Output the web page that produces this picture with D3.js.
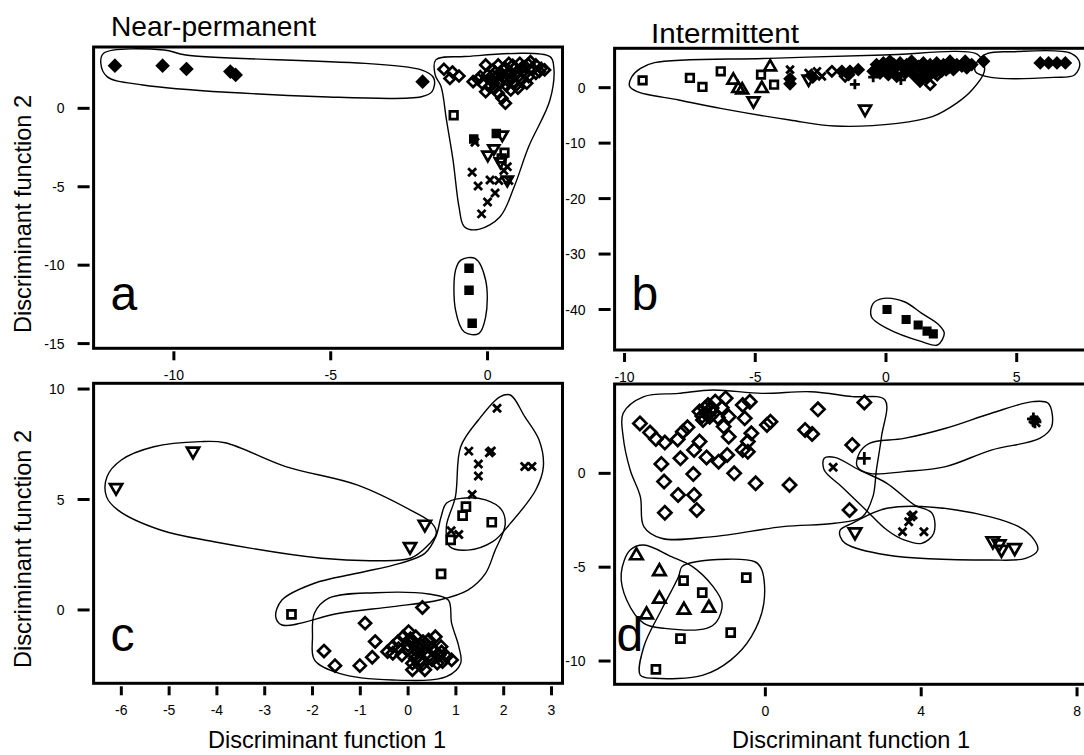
<!DOCTYPE html>
<html>
<head>
<meta charset="utf-8">
<script src="https://cdn.jsdelivr.net/npm/d3@7"></script>
<style>
  body { margin: 0; background: #fff; }
  svg { display: block; font-family: "Liberation Sans", Arial, Helvetica, sans-serif; }
</style>
</head>
<body>
<svg id="chart" width="1084" height="755"></svg>
<script>
// ---- data (discriminant function scores) ----

// a: near-permanent, function 1 vs function 2
const aFilledDiamond = [[-11.88,2.72],[-10.36,2.72],[-9.60,2.51],[-8.20,2.34],[-8.03,2.13],[-2.07,1.70]];
const aOpenDiamond = [[-1.39,2.49],[-1.12,2.32],[-0.91,2.06],[-1.20,1.90],
  [-0.46,1.70],[-0.23,2.02],[-0.06,2.77],[0,2.13],[0.17,2.45],[0.34,2.77],[0.51,2.45],[0.68,2.87],
  [0.85,2.55],[1.03,2.87],[1.20,2.66],[1.37,2.98],[1.54,2.77],[1.71,2.55],[1.82,2.45],[1.54,2.23],
  [1.31,2.02],[1.08,1.81],[0.85,1.60],[0.63,1.81],[0.40,1.60],[0.23,1.28],[0.06,1.38],[0.34,0.96],
  [0.57,0.32],[0.46,0.64],[0.74,1.17],[0.97,1.28],[0.63,2.13],[0.28,2.02],[-0.17,1.60],[0.85,2.13],
  [1.14,2.34],[0.11,1.81],[-0.06,1.06],
  [0.25,2.3],[0.45,2.2],[0.7,2.35],[0.95,2.3],[1.2,2.2],[1.45,2.5],[1.65,2.35],[0.55,2.6],[0.8,2.75],
  [1.1,2.6],[1.3,2.8],[0.2,1.6],[0.5,1.95],[0.75,1.95],[1.0,2.05],[0.15,2.1],[-0.3,1.85],[0.9,1.45],
  [0.6,1.45],[1.25,1.6]];
const aOpenSquare = [[-1.08,-0.44],[0.54,-2.83],[0.45,-3.2]];
const aFilledSquare = [[-0.44,-1.95],[0.28,-1.6],[-0.59,-10.2],[-0.59,-11.6],[-0.49,-13.7]];
const aTriDown = [[0.47,-1.72],[0.01,-3.0],[0.41,-3.43],[0.63,-4.6],[0.2,-2.6]];
const aCross = [[-0.40,-2.17],[-0.49,-4.08],[-0.30,-4.95],[0.08,-4.57],[0.24,-5.40],[0,-5.97],
  [-0.19,-6.73],[0.36,-4.6],[0.68,-4.6],[0.52,-3.96],[0.63,-3.72]];
const aHulls = [
  [[-12.24,3.51],[-10.31,3.72],[-9.62,3.40],[-2.11,2.45],[-1.71,1.91],[-1.77,1.06],[-2.11,0.74],
   [-5.30,0.74],[-10.99,1.49],[-12.13,2.02],[-12.33,2.87]],
  [[-1.65,3.09],[-0.74,3.30],[1.99,3.30],[2.11,2.66],[1.99,0.53],[1.31,-2.45],[0.85,-5.0],[0.40,-6.91],
   [-0.28,-7.72],[-0.74,-7.55],[-0.91,-6.28],[-1.10,-3.30],[-1.31,-0.74],[-1.48,1.38],[-1.67,2.13]],
  [[-0.85,-9.68],[-0.40,-9.57],[-0.06,-10.96],[-0.06,-13.30],[-0.28,-14.36],[-0.74,-14.26],[-1.02,-12.87],[-1.02,-10.32]]
];

// b: intermittent, function 1 vs function 2
const bOpenSquare = [[-9.31,1.32],[-7.50,1.75],[-7.02,0.13],[-6.32,2.95],[-4.78,2.35],[-4.28,0.54]];
const bTriUp = [[-5.84,1.45],[-5.65,-0.05],[-5.5,-0.3],[-4.43,3.85],[-4.75,-0.05]];
const bTriDown = [[-5.07,-2.48],[-2.96,1.45],[-0.80,-3.98]];
const bCross = [[-3.67,3.25],[-2.96,2.66],[-2.64,2.95],[-2.45,2.04]];
const bOpenDiamond = [[-2.07,2.95],[-1.56,2.04],[1.69,0.54],[1.96,2.29]];
const bFilledDiamond = [[-3.67,1.6],[-3.67,0.7],[-2.8,1.9],[-1.69,2.95],[-1.43,2.35],[-1.38,2.95],
  [-1.06,3.25],[-0.49,2.95],[-0.36,4.16],[-0.10,4.47],[0.15,4.76],[0.34,3.56],[0.54,4.47],[0.79,4.16],
  [0.98,4.76],[1.24,3.85],[1.43,4.47],[1.69,4.16],[1.94,4.47],[2.20,4.16],[2.45,4.76],[2.71,4.16],
  [3.03,4.76],[3.28,4.16],[-0.23,2.65],[0.09,2.35],[0.41,2.04],[0.73,2.65],[1.05,2.35],[1.37,2.04],
  [1.30,1.14],[1.56,1.75],[1.88,2.65],[2.13,2.95],[2.58,3.25],[3.09,3.56],[3.73,4.76],
  [0.3,4.2],[0.6,3.9],[1.1,4.1],[1.6,3.7],[2.0,3.9],[2.4,3.6],[0.0,3.5],[0.9,3.2],[1.5,3.0],[2.3,3.2],[2.9,3.9],
  [5.90,4.47],[6.22,4.47],[6.54,4.47],[6.86,4.47]];
const bPlus = [[-1.19,0.6],[-0.49,1.9],[0.57,1.4],[1.3,1.5]];
const bFilledSquare = [[0.04,-40.0],[0.77,-41.8],[1.23,-42.8],[1.57,-43.9],[1.81,-44.4]];
const bHulls = [
  [[-9.72,1.98],[-9.39,3.49],[-8.85,4.51],[-4.47,5.29],[-0.09,5.89],[3.42,6.19],[3.69,4.99],[3.76,2.89],
   [3.29,-0.42],[2.69,-2.83],[1.77,-5.23],[0.44,-6.43],[-1.95,-6.92],[-3.68,-5.83],[-6.33,-3.73],
   [-7.93,-2.22],[-9.52,-0.72],[-9.81,0.30]],
  [[3.49,4.69],[3.89,6.19],[4.82,6.49],[7.08,6.19],[7.41,4.39],[7.21,2.29],[6.41,1.86],[4.01,1.86],[3.42,2.89]],
  [[-0.49,-38.9],[-0.09,-38.0],[0.70,-38.6],[1.37,-40.7],[2.03,-42.8],[2.23,-44.3],[1.97,-46.4],
   [1.37,-45.8],[0.04,-43.4],[-0.56,-41.3]]
];

// c: near-permanent, second analysis
const cTriDown = [[-6.11,5.51],[-4.50,7.16],[0.35,3.85],[0.04,2.84]];
const cOpenSquare = [[-2.44,-0.20],[0.69,1.63],[1.21,4.68],[1.14,4.27],[1.75,3.97],[0.89,3.17]];
const cCross = [[1.86,9.13],[1.27,7.19],[1.70,7.12],[1.74,7.2],[1.47,6.61],[1.47,6.06],[1.34,5.23],
  [0.90,3.59],[1.06,3.42],[2.44,6.49],[2.59,6.49]];
const cOpenDiamond = [[0.30,0.11],[-0.90,-0.60],[-0.69,-1.43],[-1.76,-1.86],[-1.53,-2.52],[-1.01,-2.52],
  [-0.75,-2.14],[-0.43,-1.89],[-0.32,-1.66],[-0.21,-1.43],[-0.10,-1.21],[0.05,-1.43],[0.16,-1.21],
  [0.28,-1.66],[0.43,-1.36],[0.57,-1.21],[0.69,-1.66],[-0.13,-2.04],[-0.02,-1.81],[0.13,-2.04],
  [0.24,-2.26],[0.39,-1.96],[0.50,-2.26],[0.65,-2.04],[0.80,-2.11],[0.91,-2.26],[0.09,-2.41],
  [0.35,-2.71],[0.09,-2.71],[-0.32,-1.96],[0.01,-0.98],[0.20,-1.66],[0.50,-1.73],[0.31,-1.43],
  [0.61,-2.41],[0.72,-2.34],
  [0.0,-1.6],[0.2,-1.9],[0.4,-1.6],[0.55,-1.9],[0.15,-2.2],[0.45,-2.05],[-0.2,-1.75],[0.3,-2.45],
  [0.7,-1.9],[0.05,-1.3]];
const cHulls = [
  [[-6.30,6.03],[-6.00,6.79],[-5.32,7.39],[-4.35,7.62],[-3.83,7.57],[-2.56,6.49],[-1.07,5.66],[0.05,4.52],
   [0.50,3.92],[0.59,3.47],[0.39,2.87],[0.05,2.34],[-0.69,2.23],[-1.81,2.34],[-4.06,3.09],[-5.18,3.62],
   [-6.07,4.52],[-6.31,5.13]],
  [[0.80,3.77],[0.99,5.13],[1.10,7.39],[1.47,8.60],[1.92,9.65],[2.14,9.73],[2.44,8.75],[2.74,7.69],
   [2.83,6.49],[2.67,5.43],[2.14,3.92],[1.77,3.09],[1.25,2.71],[0.87,2.87]],
  [[0.80,4.83],[1.10,5.05],[1.62,4.98],[1.96,4.52],[2.03,3.85],[1.81,2.64],[1.62,1.66],[1.25,0.90],
   [0.65,0.45],[-0.32,0.15],[-1.44,-0.15],[-2.64,-0.68],[-2.77,-0.30],[-2.64,0.45],[-1.96,1.21],
   [-1.07,1.66],[-0.17,2.11],[0.35,2.56],[0.58,3.32],[0.69,4.22]],
  [[-1.96,-0.15],[-1.66,0.53],[-0.69,0.78],[0.43,0.72],[0.84,0.45],[0.91,-0.60],[1.06,-1.66],[1.10,-2.41],
   [0.80,-3.02],[-0.32,-3.17],[-1.44,-2.87],[-1.96,-2.26],[-2.00,-1.21]]
];

// d: intermittent, second analysis
const dOpenDiamond = [[-3.22,2.66],[-2.96,2.17],[-2.81,1.83],[-2.58,1.64],[-2.25,1.81],[-2.12,2.22],
  [-2.00,2.45],[-1.69,3.29],[-1.47,3.64],[-1.34,3.20],[-1.60,2.84],[-1.43,3.02],[-1.29,3.82],[-1.02,4.00],
  [-0.94,3.02],[-0.58,3.64],[-0.40,3.82],[-0.53,2.93],[-0.36,2.13],[-0.45,1.69],[-0.45,1.15],[-0.58,1.24],
  [-0.94,1.95],[-1.07,2.49],[-1.69,1.69],[-1.83,1.24],[-1.51,0.85],[-1.20,0.62],[-0.98,0.98],[-0.80,0.0],
  [-0.25,-0.53],[0.62,-0.62],[0.13,2.75],[0.04,2.58],[1.02,2.31],[1.20,2.10],[1.35,3.41],[2.54,3.78],
  [2.23,1.51],[2.16,-1.95],[-2.67,0.50],[-2.18,0.80],[-1.85,-0.04],[-2.60,-0.44],[-2.24,-1.15],
  [-1.83,-1.15],[-2.58,-2.10],[-1.76,-1.95],[-1.55,3.45],[-1.38,3.48],[-1.50,3.15],[-1.22,2.98],
  [-1.12,3.50],[-1.62,3.05]];
const dPlus = [[2.54,0.80],[6.88,2.9],[6.92,2.75]];
const dCross = [[1.74,0.32],[3.74,-2.31],[3.68,-2.58],[3.52,-3.11],[4.07,-3.11],[3.79,-2.22],[6.90,2.84],[6.95,2.7]];
const dTriDown = [[2.30,-3.16],[5.84,-3.64],[6.06,-4.09],[6.40,-4.00],[6.0,-3.8]];
const dTriUp = [[-3.31,-4.35],[-2.72,-5.19],[-2.72,-6.66],[-2.09,-7.25],[-1.45,-7.14],[-3.05,-7.50]];
const dOpenSquare = [[-2.10,-5.72],[-1.62,-6.36],[-0.49,-5.56],[-0.89,-8.49],[-2.18,-8.81],[-2.81,-10.44]];
const dHulls = [
  [[-3.65,3.20],[-3.12,4.09],[-2.23,4.26],[-1.34,4.44],[-0.09,4.26],[1.16,4.35],[2.23,4.09],[3.07,3.91],
   [2.98,1.95],[2.85,0.18],[2.76,-1.24],[2.49,-2.31],[1.78,-2.66],[0.45,-2.84],[-1.34,-3.37],[-2.67,-3.46],
   [-3.12,-2.84],[-3.21,-1.24],[-3.47,0.18],[-3.65,1.95]],
  [[2.41,1.07],[2.67,1.60],[3.56,1.86],[4.63,2.40],[5.80,3.20],[6.86,3.82],[7.26,3.73],[7.35,2.49],
   [7.04,1.86],[5.80,1.24],[4.63,0.36],[3.56,0.09],[2.67,0.0],[2.36,0.36]],
  [[1.51,0.80],[1.78,0.85],[2.41,0.18],[3.12,-0.53],[3.83,-1.69],[4.28,-2.13],[4.32,-3.20],[4.01,-3.73],
   [3.56,-3.55],[3.12,-3.02],[2.58,-1.95],[1.96,-0.71],[1.51,0.18]],
  [[1.92,-3.02],[2.23,-2.66],[3.12,-1.86],[4.90,-1.95],[6.50,-2.84],[6.90,-3.55],[6.99,-4.09],[6.68,-4.53],
   [5.79,-4.62],[3.12,-4.35],[2.05,-3.73],[1.92,-3.37]],
  [[-3.70,-5.33],[-3.47,-4.09],[-3.12,-3.82],[-2.41,-4.44],[-1.87,-4.97],[-1.34,-6.04],[-1.11,-6.93],
   [-1.25,-7.90],[-1.51,-8.26],[-2.58,-8.26],[-3.12,-7.99],[-3.56,-6.75]],
  [[-2.14,-4.97],[-1.78,-4.71],[-0.27,-4.71],[-0.09,-5.15],[-0.04,-6.93],[-0.36,-8.70],[-0.89,-9.95],
   [-1.60,-10.75],[-2.85,-10.92],[-3.21,-10.75],[-3.12,-9.24],[-2.67,-7.28],[-2.23,-5.51]]
];

// tick values
const aXTicks = [-10, -5, 0], aYTicks = [0, -5, -10, -15];
const bXTicks = [-10, -5, 0, 5], bYTicks = [0, -10, -20, -30, -40];
const cXTicks = [-6, -5, -4, -3, -2, -1, 0, 1, 2, 3], cYTicks = [0, 5, 10];
const dXTicks = [0, 4, 8], dYTicks = [0, -5, -10];

// ---- layout ----
const svg = d3.select("#chart");

const panels = [
  { letter: "a", box: [93.6, 47, 562.5, 348.3], xDom: [-12.56, 2.39], yDom: [3.91, -15.30],
    xTicks: aXTicks, yTicks: aYTicks, hulls: aHulls,
    series: [
      { shape: "diamond", filled: true, r: 5.4, pts: aFilledDiamond },
      { shape: "diamond", filled: false, r: 5.4, pts: aOpenDiamond },
      { shape: "square", filled: false, r: 3.8, pts: aOpenSquare },
      { shape: "square", filled: true, r: 3.4, pts: aFilledSquare },
      { shape: "triDown", filled: false, r: 5.8, pts: aTriDown },
      { shape: "cross", filled: false, r: 4.0, pts: aCross }
    ] },
  { letter: "b", box: [614.6, 48.3, 1086, 350], xDom: [-10.38, 7.65], yDom: [7.1, -47.3],
    xTicks: bXTicks, yTicks: bYTicks, hulls: bHulls,
    series: [
      { shape: "square", filled: false, r: 3.8, pts: bOpenSquare },
      { shape: "triUp", filled: false, r: 6.2, pts: bTriUp },
      { shape: "triDown", filled: false, r: 6.2, pts: bTriDown },
      { shape: "cross", filled: false, r: 3.8, pts: bCross },
      { shape: "diamond", filled: false, r: 5.0, pts: bOpenDiamond },
      { shape: "diamond", filled: true, r: 5.0, pts: bFilledDiamond },
      { shape: "plus", filled: false, r: 5.0, pts: bPlus },
      { shape: "square", filled: true, r: 3.2, pts: bFilledSquare }
    ] },
  { letter: "c", box: [93.6, 383.3, 562.5, 683.3], xDom: [-6.58, 3.23], yDom: [10.26, -3.32],
    xTicks: cXTicks, yTicks: cYTicks, hulls: cHulls,
    series: [
      { shape: "triDown", filled: false, r: 6.4, pts: cTriDown },
      { shape: "square", filled: false, r: 4.0, pts: cOpenSquare },
      { shape: "cross", filled: false, r: 4.0, pts: cCross },
      { shape: "diamond", filled: false, r: 6.0, pts: cOpenDiamond }
    ] },
  { letter: "d", box: [614.6, 384, 1086, 684.3], xDom: [-3.87, 8.23], yDom: [4.76, -11.24],
    xTicks: dXTicks, yTicks: dYTicks, hulls: dHulls,
    series: [
      { shape: "diamond", filled: false, r: 6.6, pts: dOpenDiamond },
      { shape: "plus", filled: false, r: 6.4, pts: dPlus },
      { shape: "cross", filled: false, r: 4.0, pts: dCross },
      { shape: "triDown", filled: false, r: 6.6, pts: dTriDown },
      { shape: "triUp", filled: false, r: 6.6, pts: dTriUp },
      { shape: "square", filled: false, r: 4.0, pts: dOpenSquare }
    ] }
];

// symbol outlines centred on 0,0
const shapePath = {
  diamond: r => `M0,${-r}L${r},0L0,${r}L${-r},0Z`,
  square: r => `M${-r},${-r}H${r}V${r}H${-r}Z`,
  triUp: r => `M0,${-r}L${r * 0.95},${r * 0.65}L${-r * 0.95},${r * 0.65}Z`,
  triDown: r => `M0,${r}L${r * 0.95},${-r * 0.65}L${-r * 0.95},${-r * 0.65}Z`,
  cross: r => `M${-r},${-r}L${r},${r}M${-r},${r}L${r},${-r}`,
  plus: r => `M${-r},0H${r}M0,${-r}V${r}`
};

panels.forEach(p => {
  const [x0, y0, x1, y1] = p.box;
  const x = d3.scaleLinear().domain(p.xDom).range([x0, x1]);
  const y = d3.scaleLinear().domain(p.yDom).range([y0, y1]);
  const g = svg.append("g").attr("class", "panel-" + p.letter);

  const clipId = "clip-" + p.letter;
  g.append("clipPath").attr("id", clipId)
    .append("rect").attr("x", x0).attr("y", y0).attr("width", x1 - x0).attr("height", y1 - y0);
  const plot = g.append("g").attr("clip-path", `url(#${clipId})`);

  // hulls round the groups
  const hullLine = d3.line()
    .x(d => x(d[0])).y(d => y(d[1]))
    .curve(d3.curveCatmullRomClosed.alpha(0.5));
  plot.selectAll("path.hull").data(p.hulls).join("path")
    .attr("class", "hull")
    .attr("d", hullLine)
    .attr("fill", "none").attr("stroke", "#000").attr("stroke-width", 1.4);

  // points
  p.series.forEach(s => {
    plot.selectAll(null).data(s.pts).join("path")
      .attr("transform", d => `translate(${x(d[0])},${y(d[1])})`)
      .attr("d", shapePath[s.shape](s.r))
      .attr("fill", s.filled ? "#000" : "none")
      .attr("stroke", "#000")
      .attr("stroke-width", s.shape === "cross" || s.shape === "plus" ? 2.8 : 2.7)
      .attr("stroke-linejoin", "miter");
  });

  // frame
  g.append("rect").attr("x", x0).attr("y", y0).attr("width", x1 - x0).attr("height", y1 - y0)
    .attr("fill", "none").attr("stroke", "#000").attr("stroke-width", 3);

  // y ticks, drawn detached to the left of the frame
  g.selectAll("line.yt").data(p.yTicks).join("line")
    .attr("x1", x0 - 16).attr("x2", x0 - 4)
    .attr("y1", d => y(d)).attr("y2", d => y(d))
    .attr("stroke", "#000").attr("stroke-width", 3);
  g.selectAll("text.yl").data(p.yTicks).join("text")
    .attr("x", x0 - 29).attr("y", d => y(d) + 5)
    .attr("text-anchor", "end").attr("font-size", 14)
    .text(d => d3.format("d")(d).replace("−", "-"));

  // x ticks below the frame
  g.selectAll("line.xt").data(p.xTicks).join("line")
    .attr("x1", d => x(d)).attr("x2", d => x(d))
    .attr("y1", y1 + 3).attr("y2", y1 + 12)
    .attr("stroke", "#000").attr("stroke-width", 3);
  g.selectAll("text.xl").data(p.xTicks).join("text")
    .attr("x", d => x(d)).attr("y", y1 + 32)
    .attr("text-anchor", "middle").attr("font-size", 14)
    .text(d => d3.format("d")(d).replace("−", "-"));

  // panel letter
  g.append("text").attr("x", x0 + (p.letter === "d" ? 2 : 17)).attr("y", p.letter === "a" || p.letter === "b" ? 310 : 651)
    .attr("font-size", 48).text(p.letter);
});

// column titles
svg.append("text").attr("x", 111).attr("y", 36).attr("font-size", 28)
  .attr("textLength", 205).attr("lengthAdjust", "spacingAndGlyphs").text("Near-permanent");
svg.append("text").attr("x", 651).attr("y", 43).attr("font-size", 27)
  .attr("textLength", 148).attr("lengthAdjust", "spacingAndGlyphs").text("Intermittent");

// axis titles
[214, 549].forEach(cy => {
  svg.append("text").attr("transform", `translate(31,${cy}) rotate(-90)`)
    .attr("text-anchor", "middle").attr("font-size", 24)
    .attr("textLength", 238).attr("lengthAdjust", "spacingAndGlyphs")
    .text("Discriminant function 2");
});
[327, 851].forEach(cx => {
  svg.append("text").attr("x", cx).attr("y", 748)
    .attr("text-anchor", "middle").attr("font-size", 24)
    .attr("textLength", 238).attr("lengthAdjust", "spacingAndGlyphs")
    .text("Discriminant function 1");
});
</script>
</body>
</html>
